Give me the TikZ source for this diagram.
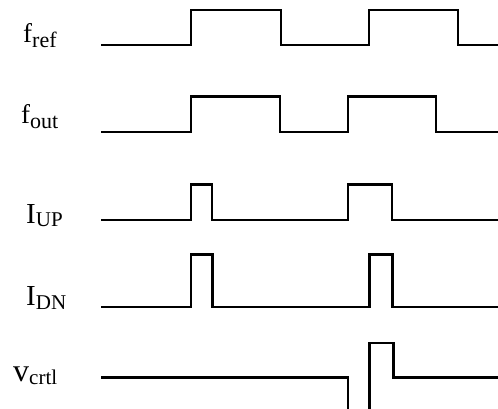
\documentclass[tikz,border=0pt]{standalone}
\usepackage{fontspec}
\setmainfont{Liberation Serif}
\newcommand{\siglbl}[5]{{\fontsize{#1}{#1}\selectfont #2}{\fontsize{#3}{#3}\selectfont\raisebox{-#5pt}{#4}}}
\begin{document}
\begin{tikzpicture}[x=1pt,y=-1pt,
    wave/.style={line width=2.4pt,line join=miter},
    lbl/.style={anchor=base west,inner sep=0pt}]
  \useasboundingbox (0,0) rectangle (498,409);
  % labels
  \node[lbl](Lref) at (23,43) {\siglbl{27}{f}{22}{ref}{5}};
  \node[lbl](Lout) at (21,123.3) {\siglbl{27}{f}{22}{out}{5}};
  \node[lbl](Lup) at (26,223) {\siglbl{29}{I}{21}{UP}{3.7}};
  \node[lbl](Ldn) at (26,305) {\siglbl{29}{I}{21}{DN}{4}};
  \node[lbl](Lctl) at (13,381.7) {\siglbl{32}{v}{21}{crtl}{3}};
  % pulse trains
  \foreach \lo/\hi/\a/\b/\c/\d in{45/10/190.7/281/369/457.7,
      132.3/96.7/190.7/280/348/435.7,
      220/184.3/190.7/212/348/391.7,
      306.7/254.3/190.7/212.3/369.3/392.3}{
    \draw[wave](101,\lo) -| (\a,\hi) -| (\b,\lo) -| (\c,\hi) -| (\d,\lo) -- (500,\lo);
  }
  % control voltage
  \draw[wave](101,377.3) -| (348,411);
  \draw[wave](369.3,411) |- (393.3,342.7) |- (500,377.3);
\end{tikzpicture}
\end{document}
